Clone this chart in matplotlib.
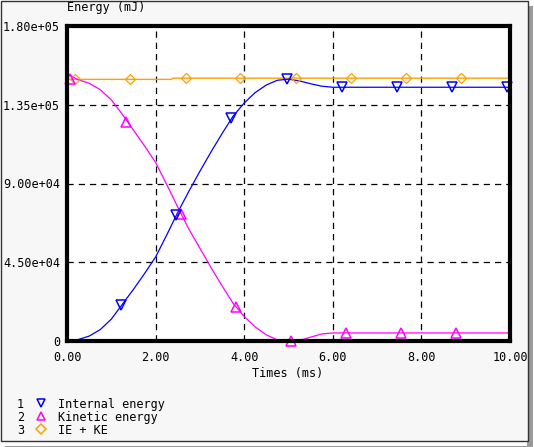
import numpy as np
import matplotlib
matplotlib.use('Agg')
import matplotlib.pyplot as plt
from matplotlib.patches import Rectangle
from matplotlib.lines import Line2D

# 曲线数据 (时间 ms, 能量 1e3 mJ)
ie_t = [0.0, 0.25, 0.5, 0.75, 1.0, 1.25, 1.5, 1.75, 2.0, 2.25, 2.5, 2.75, 3.0, 3.25, 3.5, 3.75, 4.0, 4.25, 4.5, 4.75, 5.0, 5.25, 5.5, 5.75, 6.0, 10.0]
ie_v = [0.0, 0.8, 2.8, 6.5, 12.5, 21.0, 29.5, 38.5, 48.0, 60.5, 73.5, 85.5, 97.0, 108.0, 118.5, 128.5, 136.0, 142.0, 146.3, 149.0, 149.6, 148.6, 147.0, 145.6, 145.0, 145.0]
ke_t = [0.0, 0.05, 0.25, 0.5, 0.75, 1.0, 1.25, 1.5, 1.75, 2.0, 2.25, 2.5, 2.75, 3.0, 3.25, 3.5, 3.75, 4.0, 4.25, 4.5, 4.75, 5.0, 5.25, 5.5, 5.75, 6.0, 10.0]
ke_v = [150.5, 152.0, 149.3, 147.3, 143.6, 137.8, 129.5, 120.5, 111.5, 102.0, 89.5, 76.5, 64.0, 53.0, 42.0, 31.5, 21.5, 14.0, 8.0, 3.5, 0.6, 0.0, 0.4, 2.2, 4.0, 4.6, 4.6]
tot_t = [0.0, 2.35, 2.4, 10.0]
tot_v = [149.5, 149.5, 150.2, 150.2]

# 标记点
ie_mt = [1.22, 2.46, 3.70, 4.96, 6.21, 7.45, 8.69, 9.93]
ie_mv = [20.6, 72.0, 127.4, 149.5, 145.0, 145.0, 145.0, 145.0]
ke_mt = [0.07, 1.33, 2.57, 3.81, 5.06, 6.30, 7.54, 8.78]
ke_mv = [150.0, 125.0, 72.5, 19.4, 0.0, 4.6, 4.6, 4.6]
tot_mt = [0.18, 1.42, 2.69, 3.91, 5.17, 6.41, 7.65, 8.89]
tot_mv = [149.5, 149.5, 150.2, 150.2, 150.2, 150.2, 150.2, 150.2]

legend_names = ['Internal energy', 'Kinetic energy', 'IE + KE']
x_ticks = [0, 2, 4, 6, 8, 10]
y_ticks = [0, 45000, 90000, 135000, 180000]
y_labels = ['0', '4.50e+04', '9.00e+04', '1.35e+05', '1.80e+05']

blue = '#0000ff'
mag = '#ff00ff'
org = '#ffa000'
plt.rcParams['font.family'] = 'DejaVu Sans Mono'

fig = plt.figure(figsize=(5.34, 4.47), dpi=100)
fig.patch.set_facecolor('white')
W, H = 534, 447
# 阴影和面板
fig.patches.append(Rectangle((5 / W, 0), 522 / W, 1 - 446 / H, transform=fig.transFigure,
                             facecolor='#9a9a9a', edgecolor='none', zorder=-3))
fig.patches.append(Rectangle((527 / W, 0), 6 / W, 1 - 6 / H, transform=fig.transFigure,
                             facecolor='#9a9a9a', edgecolor='none', zorder=-3))
fig.patches.append(Rectangle((0.5 / W, 1 - 441 / H), 527 / W, 440.5 / H, transform=fig.transFigure,
                             facecolor='#f7f7f7', edgecolor='#333333', linewidth=1.0, zorder=-2))

ax = fig.add_axes([67 / W, 1 - 341 / H, (510 - 67) / W, (341 - 26) / H])
ax.set_zorder(1)
ax.set_facecolor('white')
ax.set_xlim(0, 10)
ax.set_ylim(0, 180000)

def k(v):
    return np.array(v) * 1000.0

ax.plot(tot_t, k(tot_v), color=org, lw=1.0, zorder=3)
ax.plot(tot_mt, k(tot_mv), ls='none', marker='D', ms=5, mfc='none', mec=org, mew=0.9, zorder=4, clip_on=False)
ax.plot(ke_t, k(ke_v), color=mag, lw=0.9, zorder=3)
ax.plot(ke_mt, k(ke_mv), ls='none', marker='^', ms=6.5, mfc='none', mec=mag, mew=1.1, zorder=4, clip_on=False)
ax.plot(ie_t, k(ie_v), color=blue, lw=0.9, zorder=3)
ax.plot(ie_mt, k(ie_mv), ls='none', marker='v', ms=6.5, mfc='none', mec=blue, mew=1.1, zorder=4, clip_on=False)

ax.set_xticks(x_ticks)
ax.set_xticklabels(['%.2f' % v for v in x_ticks])
ax.set_yticks(y_ticks)
ax.set_yticklabels(y_labels)
ax.tick_params(length=0, labelsize=8.5)
ax.tick_params(axis='x', pad=7)
ax.tick_params(axis='y', pad=5)
ax.grid(True, color='black', ls=(0, (5, 4)), lw=0.9)
for s in ax.spines.values():
    s.set_linewidth(3)
    s.set_color('black')
    s.set_zorder(5)

fig.text(67 / W, 1 - 8 / H, 'Energy (mJ)', fontsize=8.5, va='center', ha='left')
fig.text(288 / W, 1 - 374 / H, 'Times (ms)', fontsize=8.5, va='center', ha='center')

# 图例
mk = ['v', '^', 'D']
cols = [blue, mag, org]
for i, name in enumerate(legend_names):
    yy = 1 - (403 + 13 * i) / H
    fig.text(17 / W, yy, str(i + 1), fontsize=8.5, va='center_baseline', ha='left')
    fig.lines.append(Line2D([41 / W], [yy], transform=fig.transFigure, marker=mk[i],
                            ms=6 if i < 2 else 5, mfc='none', mec=cols[i], mew=1.1, ls='none'))
    fig.text(58 / W, yy, name, fontsize=8.5, va='center_baseline', ha='left')

plt.savefig('out.png', dpi=100, facecolor=fig.get_facecolor())
